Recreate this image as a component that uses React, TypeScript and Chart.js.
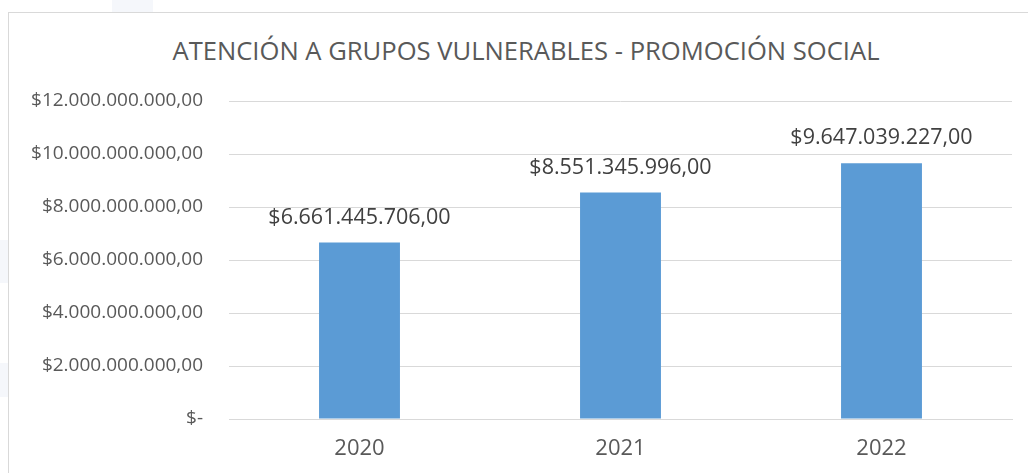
import React, { useEffect, useRef } from "react";
import { Chart, registerables } from "chart.js";

Chart.register(...registerables);

const TITLE = "ATENCIÓN A GRUPOS VULNERABLES - PROMOCIÓN SOCIAL";
const categories = ["2020", "2021", "2022"];
const values = [6661445706, 8551345996, 9647039227];
const valueLabels = ["$6.661.445.706,00", "$8.551.345.996,00", "$9.647.039.227,00"];
const yTicks = [0, 2e9, 4e9, 6e9, 8e9, 10e9, 12e9];
const yTickLabels = [
  "$-",
  "$2.000.000.000,00",
  "$4.000.000.000,00",
  "$6.000.000.000,00",
  "$8.000.000.000,00",
  "$10.000.000.000,00",
  "$12.000.000.000,00",
];

const FONT = "'Open Sans', sans-serif";

export default function App() {
  const ref = useRef<HTMLCanvasElement | null>(null);

  useEffect(() => {
    if (!ref.current) return;
    const labelPlugin = {
      id: "valueLabels",
      afterDatasetsDraw(chart: any) {
        const ctx = chart.ctx;
        const meta = chart.getDatasetMeta(0);
        ctx.save();
        ctx.font = `21.5px ${FONT}`;
        ctx.fillStyle = "#404040";
        ctx.textAlign = "center";
        ctx.textBaseline = "middle";
        meta.data.forEach((bar: any, i: number) => {
          ctx.fillText(valueLabels[i], bar.x, bar.y - 25);
        });
        ctx.restore();
      },
    };
    const chart = new Chart(ref.current, {
      type: "bar",
      data: {
        labels: categories,
        datasets: [
          {
            data: values,
            backgroundColor: "#5B9BD5",
            borderWidth: 0,
            categoryPercentage: 1,
            barPercentage: 0.31,
          },
        ],
      },
      options: {
        animation: false,
        responsive: false,
        maintainAspectRatio: false,
        layout: { padding: { top: 88, right: 18, left: 0, bottom: 0 } },
        plugins: {
          legend: { display: false },
          title: { display: false },
          tooltip: { enabled: false },
        },
        scales: {
          y: {
            min: 0,
            max: 12e9,
            afterBuildTicks(scale: any) {
              scale.ticks = yTicks.map((v) => ({ value: v }));
            },
            afterFit(scale: any) {
              scale.width = 220;
            },
            ticks: {
              padding: 26,
              color: "#595959",
              font: { family: FONT, size: 19 },
              callback: (v: any) => {
                const i = yTicks.indexOf(Number(v));
                return i >= 0 ? yTickLabels[i] : "";
              },
            },
            grid: { color: "#d9d9d9", drawTicks: false, lineWidth: 1 },
            border: { display: false },
          },
          x: {
            afterFit(scale: any) {
              scale.height = 54;
            },
            ticks: {
              padding: 17,
              color: "#595959",
              font: { family: FONT, size: 22 },
            },
            grid: { display: false, drawTicks: false },
            border: { display: true, color: "#d9d9d9", width: 1 },
          },
        },
      },
      plugins: [labelPlugin],
    });
    return () => chart.destroy();
  }, []);

  return (
    <div
      style={{
        position: "fixed",
        left: 0,
        top: 0,
        width: 1028,
        height: 473,
        overflow: "hidden",
        background: "#ffffff",
      }}
    >
      <div style={{ position: "absolute", left: 112, top: 0, width: 41, height: 12, background: "#f5f7fb" }} />
      <div style={{ position: "absolute", left: 0, top: 240, width: 8, height: 43, background: "#f5f7fb" }} />
      <div style={{ position: "absolute", left: 0, top: 363, width: 8, height: 34, background: "#f5f7fb" }} />
      <div
        style={{
          position: "absolute",
          left: 8,
          top: 12,
          width: 1040,
          height: 480,
          border: "1px solid #d9d9d9",
          boxSizing: "border-box",
          background: "#ffffff",
        }}
      >
        <div
          style={{
            position: "absolute",
            left: 0,
            top: 23,
            width: 1034,
            textAlign: "center",
            fontFamily: FONT,
            fontSize: 25.6,
            color: "#595959",
            lineHeight: "30px",
            whiteSpace: "nowrap",
          }}
        >
          {TITLE}
        </div>
        <canvas
          ref={ref}
          width={1021}
          height={460}
          style={{ position: "absolute", left: 0, top: 0, width: 1021, height: 460 }}
        />
      </div>
    </div>
  );
}
